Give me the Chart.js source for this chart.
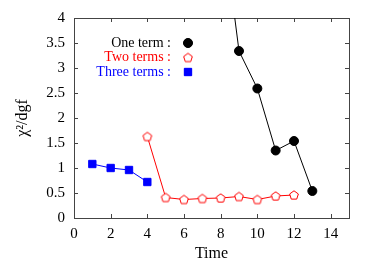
<!DOCTYPE html>
<html>
<head>
<meta charset="utf-8">
<script src="https://cdn.jsdelivr.net/npm/chart.js@4/dist/chart.umd.min.js"></script>
<style>
html,body{margin:0;padding:0;background:#fff;}
#wrap{width:374px;height:262px;}
</style>
</head>
<body>
<div id="wrap"><canvas id="c" width="374" height="262"></canvas></div>
<script>
const oneX = [8, 9, 10, 11, 12, 13];
const oneY = [6.2, 3.34, 2.59, 1.35, 1.54, 0.54];
const twoX = [4, 5, 6, 7, 8, 9, 10, 11, 12];
const twoY = [1.63, 0.41, 0.37, 0.39, 0.40, 0.43, 0.37, 0.44, 0.46];
const threeX = [1, 2, 3, 4];
const threeY = [1.08, 1.00, 0.96, 0.72];
const xTicks = [0, 2, 4, 6, 8, 10, 12, 14];
const yTicks = [0, 0.5, 1, 1.5, 2, 2.5, 3, 3.5, 4];
const yTickLabels = ['0', '0.5', '1', '1.5', '2', '2.5', '3', '3.5', '4'];
const legendLabels = ['One term :', 'Two terms :', 'Three terms :'];

const SERIF = "'Liberation Serif', 'DejaVu Serif', serif";

function pentagon(color) {
  const cv = document.createElement('canvas');
  cv.width = 12; cv.height = 12;
  const g = cv.getContext('2d');
  const cx = 6, cy = 6.4, r = 4.6;
  g.beginPath();
  for (let i = 0; i < 5; i++) {
    const a = -Math.PI / 2 + i * 2 * Math.PI / 5;
    const px = cx + r * Math.cos(a), py = cy + r * Math.sin(a);
    if (i === 0) g.moveTo(px, py); else g.lineTo(px, py);
  }
  g.closePath();
  g.fillStyle = '#fff';
  g.fill();
  g.lineWidth = 1;
  g.strokeStyle = color;
  g.stroke();
  return cv;
}
const pent = pentagon('#ff0000');

const toPts = (xs, ys) => xs.map((x, i) => ({x: x, y: ys[i]}));

const seriesStyles = [
  {color: '#000000', pointStyle: 'circle', radius: 4.5},
  {color: '#ff0000', pointStyle: pent, radius: 5},
  {color: '#0000ff', pointStyle: 'rect', radius: 5.2}
];

const framePlugin = {
  id: 'frame',
  beforeDatasetsDraw(chart) {
    const {ctx, chartArea: a, scales} = chart;
    ctx.save();
    ctx.strokeStyle = '#444';
    ctx.lineWidth = 1;
    ctx.strokeRect(Math.round(a.left) + 0.5, Math.round(a.top) + 0.5, Math.round(a.right - a.left), Math.round(a.bottom - a.top));
    ctx.beginPath();
    const L = 4;
    scales.x.ticks.forEach(t => {
      const px = Math.round(scales.x.getPixelForValue(t.value)) + 0.5;
      ctx.moveTo(px, a.bottom); ctx.lineTo(px, a.bottom - L);
      ctx.moveTo(px, a.top); ctx.lineTo(px, a.top + L);
    });
    scales.y.ticks.forEach(t => {
      const py = Math.round(scales.y.getPixelForValue(t.value)) + 0.5;
      ctx.moveTo(a.left, py); ctx.lineTo(a.left + L, py);
      ctx.moveTo(a.right, py); ctx.lineTo(a.right - L, py);
    });
    ctx.stroke();
    ctx.restore();
  }
};

const legendPlugin = {
  id: 'customLegend',
  afterDraw(chart) {
    const ctx = chart.ctx;
    ctx.save();
    ctx.font = '14px ' + SERIF;
    ctx.textAlign = 'right';
    ctx.textBaseline = 'middle';
    const ys = [43, 57.5, 72];
    legendLabels.forEach((lab, i) => {
      const s = seriesStyles[i];
      ctx.fillStyle = s.color;
      ctx.fillText(lab, 171, ys[i]);
      ctx.fillStyle = s.color;
      ctx.strokeStyle = s.color;
      ctx.lineWidth = 1;
      Chart.helpers.drawPoint(ctx, {pointStyle: s.pointStyle, radius: s.radius, rotation: 0, borderWidth: 1}, 188, ys[i]);
      if (s.pointStyle === 'circle' || s.pointStyle === 'rect') { ctx.fill(); }
    });
    ctx.restore();
  }
};

const datasets = [
  {label: legendLabels[0], data: toPts(oneX, oneY)},
  {label: legendLabels[1], data: toPts(twoX, twoY)},
  {label: legendLabels[2], data: toPts(threeX, threeY)}
].map((d, i) => {
  const s = seriesStyles[i];
  return Object.assign(d, {
    showLine: true,
    borderColor: s.color,
    backgroundColor: s.color,
    borderWidth: 1,
    pointStyle: s.pointStyle,
    pointRadius: s.radius,
    pointHoverRadius: s.radius,
    pointBackgroundColor: s.color,
    pointBorderColor: s.color,
    pointBorderWidth: 1,
    tension: 0
  });
});

new Chart(document.getElementById('c'), {
  type: 'scatter',
  data: {datasets: datasets},
  options: {
    responsive: false,
    animation: false,
    devicePixelRatio: 1,
    layout: {padding: {left: 0, right: 25, top: 17, bottom: 0}},
    plugins: {legend: {display: false}, tooltip: {enabled: false}},
    scales: {
      x: {
        type: 'linear', min: 0, max: 15,
        afterBuildTicks: s => { s.ticks = xTicks.map(v => ({value: v})); },
        afterFit: s => { s.height = 44; },
        grid: {display: false, drawTicks: false},
        border: {display: false},
        ticks: {padding: 7, color: '#000', font: {family: SERIF, size: 15}, maxRotation: 0, autoSkip: false,
                callback: v => String(v)},
        title: {display: true, text: 'Time', color: '#000', font: {family: SERIF, size: 16, lineHeight: 1}, padding: {top: 0, bottom: 0}}
      },
      y: {
        type: 'linear', min: 0, max: 4,
        afterBuildTicks: s => { s.ticks = yTicks.map(v => ({value: v})); },
        afterFit: s => { s.width = 74; },
        grid: {display: false, drawTicks: false},
        border: {display: false},
        ticks: {padding: 9, color: '#000', font: {family: SERIF, size: 15}, autoSkip: false,
                callback: v => { const k = yTicks.indexOf(v); return k >= 0 ? yTickLabels[k] : String(v); }},
        title: {display: true, text: 'χ²/dgf', color: '#000', font: {family: SERIF, size: 16, lineHeight: 1}, padding: {top: 15, bottom: 0}}
      }
    }
  },
  plugins: [framePlugin, legendPlugin]
});
</script>
</body>
</html>
